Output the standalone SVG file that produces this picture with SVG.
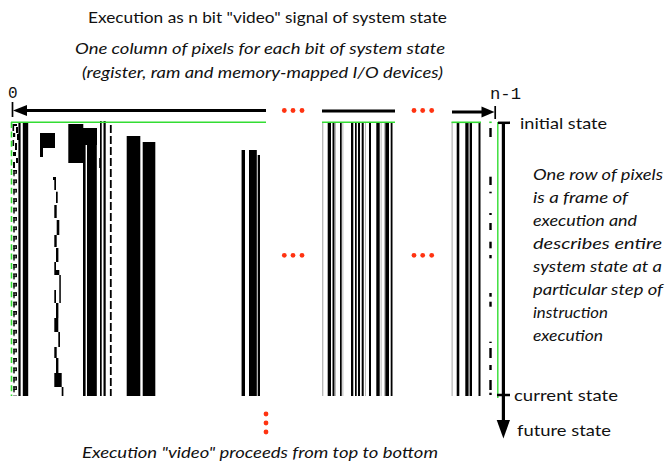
<svg xmlns="http://www.w3.org/2000/svg" width="666" height="464" viewBox="0 0 666 464">
<defs>
<style>
.t{font-family:Lato,"Open Sans","DejaVu Sans",sans-serif;font-size:16px;fill:#111}
.i{font-family:Lato,"Open Sans","DejaVu Sans",sans-serif;font-size:16px;font-style:italic;fill:#111}
.m{font-family:"Liberation Mono","DejaVu Sans Mono",monospace;font-size:16px;fill:#111}
.b{fill:#000}
.g{fill:#a8a8a8}
.dot{fill:#ff3311}
.grn{stroke:#33dd33;fill:none}
.ax{stroke:#000;fill:none}
</style>
<pattern id="pp" x="12" y="170" width="8" height="9.4" patternUnits="userSpaceOnUse">
<rect x="1.3" y="0" width="3.6" height="1.4" fill="#000"/>
<rect x="1.3" y="0" width="1.4" height="6" fill="#000"/>
<rect x="3.6" y="0" width="1.3" height="3.6" fill="#000"/>
<rect x="1.3" y="2.6" width="3.6" height="1.1" fill="#000"/>
</pattern>
</defs>

<g id="title">
<text class="t" x="88" y="23" textLength="359" lengthAdjust="spacingAndGlyphs">Execution as n bit "video" signal of system state</text>
<text class="i" x="75" y="54" textLength="370" lengthAdjust="spacingAndGlyphs">One column of pixels for each bit of system state</text>
<text class="i" x="82" y="78" textLength="361" lengthAdjust="spacingAndGlyphs">(register, ram and memory-mapped I/O devices)</text>
</g>

<g id="bitmap">
<!-- left strip -->
<rect x="12" y="170" width="8" height="226" fill="url(#pp)"/>
<rect class="b" x="12.5" y="124" width="1.6" height="7"/>
<rect class="b" x="14" y="124" width="3" height="2"/>
<rect class="b" x="16" y="127" width="2" height="6"/>
<rect class="b" x="13" y="133" width="2.2" height="4"/>
<rect class="b" x="17" y="134" width="2.5" height="6"/>
<rect class="b" x="12.5" y="140" width="1.6" height="6"/>
<rect class="b" x="15" y="143" width="2" height="7"/>
<rect class="b" x="13" y="152" width="3" height="4"/>
<rect class="b" x="16" y="158" width="2" height="5"/>
<rect class="b" x="13" y="162" width="2" height="6"/>
<rect class="b" x="18.4" y="123" width="2.2" height="273"/>
<rect class="b" x="22.8" y="123" width="5.4" height="273"/>
<rect class="b" x="40" y="133" width="15" height="15"/>
<rect class="b" x="40" y="148" width="3" height="9"/>
<rect class="b" x="53" y="177" width="3" height="3"/>
<rect class="b" x="54.3" y="177" width="1.7" height="13"/>
<rect class="b" x="56" y="191.7" width="1.7" height="11.3"/>
<rect class="b" x="54.3" y="205" width="2.4" height="13"/>
<rect class="b" x="56.7" y="220" width="2.6" height="15"/>
<rect class="b" x="54.3" y="235" width="2.4" height="12"/>
<rect class="b" x="56" y="248" width="2.4" height="14"/>
<rect class="b" x="54.3" y="262" width="1.7" height="8"/>
<rect class="b" x="54.3" y="270" width="5" height="5"/>
<rect class="b" x="59.3" y="275" width="1.5" height="28"/>
<rect class="b" x="54.3" y="290" width="1.7" height="13"/>
<rect class="b" x="56" y="303" width="2.4" height="15"/>
<rect class="b" x="54.3" y="318" width="4" height="14"/>
<rect class="b" x="58.3" y="332" width="1.7" height="15"/>
<rect class="b" x="54.3" y="347" width="2.4" height="11"/>
<rect class="b" x="56" y="358" width="2.4" height="15"/>
<rect class="b" x="54.3" y="373" width="7.4" height="14"/>
<rect class="b" x="61.7" y="387" width="1.7" height="9"/>
<rect class="b" x="68.3" y="124" width="15" height="39"/>
<rect class="b" x="83" y="128" width="14" height="17"/>
<rect class="b" x="83" y="145" width="2.6" height="251"/>
<rect class="b" x="87" y="145" width="9.8" height="251"/>
<rect class="b" x="100" y="121" width="1.7" height="275"/>
<rect class="b" x="103.5" y="121" width="2.2" height="275"/>
<rect class="b" x="99.2" y="158" width="1.5" height="10"/>
<line x1="110.8" y1="125" x2="110.8" y2="396" stroke="#000" stroke-width="1.8" stroke-dasharray="8 3"/>
<rect class="b" x="126.7" y="136" width="13.3" height="260"/>
<rect class="g" x="140" y="136" width="0.9" height="260"/>
<rect class="b" x="142.7" y="142" width="12.3" height="254"/>
<rect class="g" x="155" y="142" width="0.9" height="254"/>
<rect class="g" x="241" y="150" width="0.8" height="246"/>
<rect class="b" x="241.8" y="150" width="3.2" height="246"/>
<rect class="b" x="249" y="150" width="7.8" height="246"/>
<rect class="b" x="257.7" y="155" width="2.3" height="241"/>
<!-- middle strip -->
<rect class="g" x="322.2" y="122" width="1.1" height="274"/>
<rect class="b" x="327.7" y="123" width="3.3" height="273"/>
<rect class="b" x="332.5" y="123" width="2" height="273"/>
<rect class="g" x="335" y="123" width="0.8" height="273"/>
<rect class="b" x="340" y="123" width="1.7" height="273"/>
<rect class="g" x="342.5" y="123" width="0.8" height="273"/>
<rect class="b" x="351" y="123" width="2.3" height="273"/>
<rect class="b" x="355" y="123" width="1.7" height="273"/>
<rect class="b" x="358" y="123" width="2" height="273"/>
<rect class="b" x="361.7" y="123" width="2" height="273"/>
<rect class="g" x="365" y="123" width="0.8" height="273"/>
<rect class="b" x="369" y="123" width="2" height="273"/>
<rect class="b" x="376.3" y="123" width="3.4" height="273"/>
<rect class="g" x="380.7" y="123" width="0.8" height="273"/>
<rect class="g" x="384.2" y="123" width="0.8" height="273"/>
<rect class="b" x="385.3" y="123" width="3.7" height="273"/>
<rect class="b" x="390.7" y="123" width="1.8" height="273"/>
<!-- right strip -->
<rect class="g" x="451.6" y="122" width="1" height="274"/>
<rect class="b" x="456.7" y="123" width="2.6" height="273"/>
<rect class="b" x="465.3" y="123" width="3.4" height="273"/>
<rect class="g" x="468.7" y="123" width="1" height="273"/>
<rect class="b" x="469.8" y="123" width="2.2" height="273"/>
<rect class="b" x="478.5" y="123" width="2" height="273"/>
<g fill="#000">
<rect x="489.3" y="128" width="2.4" height="9"/>
<rect x="489.3" y="176.7" width="2.4" height="8.3"/>
<rect x="489.3" y="191.7" width="2.4" height="1.6"/>
<rect x="489.3" y="213" width="2.4" height="2"/>
<rect x="489.3" y="223" width="2.4" height="7"/>
<rect x="489.3" y="241.7" width="2.4" height="6.6"/>
<rect x="489.3" y="255" width="2.4" height="3.3"/>
<rect x="489.3" y="293" width="2.4" height="3.7"/>
<rect x="489.3" y="301.7" width="2.4" height="5"/>
<rect x="489.3" y="341.7" width="2.4" height="1.3"/>
<rect x="489.3" y="348" width="2.4" height="10"/>
<rect x="489.3" y="365" width="2.4" height="5"/>
<rect x="489.3" y="380" width="2.4" height="10"/>
<rect x="489.3" y="392.7" width="2.4" height="2.3"/>
</g>
<!-- green markers -->
<line class="grn" x1="11.5" y1="122" x2="11.5" y2="396" stroke-width="1.6" stroke-dasharray="6 3.4"/>
<line class="grn" x1="11" y1="122.3" x2="266" y2="122.3" stroke-width="1.6"/>
<line class="grn" x1="322" y1="122.3" x2="395" y2="122.3" stroke-width="1.6"/>
<line class="grn" x1="451.5" y1="122.3" x2="481" y2="122.3" stroke-width="1.6"/>
<line class="grn" x1="489.3" y1="122.3" x2="491.7" y2="122.3" stroke-width="1.6"/>
<line class="grn" x1="497.8" y1="122" x2="497.8" y2="398" stroke-width="1.4"/>
</g>

<g id="connectors">
<line class="ax" x1="20" y1="110.5" x2="266" y2="110.5" stroke-width="3"/>
<polygon points="13,110.5 27,105 27,116" fill="#000"/>
<line class="ax" x1="12.5" y1="102" x2="12.5" y2="117" stroke-width="1.7"/>
<line class="ax" x1="322" y1="111" x2="395" y2="111" stroke-width="3"/>
<line class="ax" x1="452" y1="112" x2="484" y2="112" stroke-width="3"/>
<polygon points="494.5,112 481.5,106.5 481.5,117.5" fill="#000"/>
<line class="ax" x1="495.2" y1="106" x2="495.2" y2="119" stroke-width="1.7"/>
<line class="ax" x1="503.4" y1="122" x2="503.4" y2="422" stroke-width="3.2"/>
<line class="ax" x1="498" y1="122.8" x2="510" y2="122.8" stroke-width="2.5"/>
<line class="ax" x1="497" y1="395" x2="510" y2="395" stroke-width="2.5"/>
<polygon points="503.4,438.5 496.7,420 510,420" fill="#000"/>
</g>

<g id="ellipses">
<circle class="dot" cx="284.3" cy="110.5" r="2.4"/>
<circle class="dot" cx="293" cy="110.5" r="2.4"/>
<circle class="dot" cx="302" cy="110.5" r="2.4"/>
<circle class="dot" cx="414" cy="110.5" r="2.4"/>
<circle class="dot" cx="422.7" cy="110.5" r="2.4"/>
<circle class="dot" cx="431.7" cy="110.5" r="2.4"/>
<circle class="dot" cx="284.3" cy="255.3" r="2.4"/>
<circle class="dot" cx="293" cy="255.3" r="2.4"/>
<circle class="dot" cx="302" cy="255.3" r="2.4"/>
<circle class="dot" cx="414" cy="255.3" r="2.4"/>
<circle class="dot" cx="422.7" cy="255.3" r="2.4"/>
<circle class="dot" cx="431.7" cy="255.3" r="2.4"/>
<circle class="dot" cx="266" cy="414" r="2.4"/>
<circle class="dot" cx="266" cy="423" r="2.4"/>
<circle class="dot" cx="266" cy="432" r="2.4"/>
</g>

<g id="labels">
<text class="m" x="8" y="97.5">0</text>
<text class="m" x="490" y="98.5" textLength="31" lengthAdjust="spacingAndGlyphs">n-1</text>
<text class="t" x="520" y="129" textLength="87" lengthAdjust="spacingAndGlyphs">initial state</text>
<text class="t" x="514" y="401" textLength="104" lengthAdjust="spacingAndGlyphs">current state</text>
<text class="t" x="517" y="436" textLength="94" lengthAdjust="spacingAndGlyphs">future state</text>
<text class="i" x="533" y="180" textLength="130" lengthAdjust="spacingAndGlyphs">One row of pixels</text>
<text class="i" x="533" y="203" textLength="95" lengthAdjust="spacingAndGlyphs">is a frame of</text>
<text class="i" x="533" y="226" textLength="104" lengthAdjust="spacingAndGlyphs">execution and</text>
<text class="i" x="533" y="249" textLength="129" lengthAdjust="spacingAndGlyphs">describes entire</text>
<text class="i" x="533" y="272" textLength="129" lengthAdjust="spacingAndGlyphs">system state at a</text>
<text class="i" x="533" y="295" textLength="130" lengthAdjust="spacingAndGlyphs">particular step of</text>
<text class="i" x="533" y="318" textLength="75" lengthAdjust="spacingAndGlyphs">instruction</text>
<text class="i" x="533" y="341" textLength="70" lengthAdjust="spacingAndGlyphs">execution</text>
<text class="i" x="82" y="458" textLength="356" lengthAdjust="spacingAndGlyphs">Execution "video" proceeds from top to bottom</text>
</g>
</svg>
